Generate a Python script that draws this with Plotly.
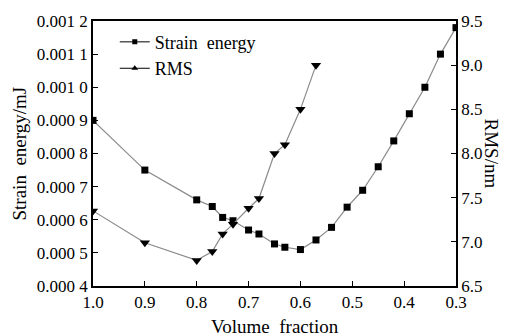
import plotly.graph_objects as go

# Data
se_x = [1.0, 0.9, 0.8, 0.77, 0.75, 0.73, 0.70, 0.68, 0.65, 0.63, 0.60,
        0.57, 0.54, 0.51, 0.48, 0.45, 0.42, 0.39, 0.36, 0.33, 0.30]
se_y = [0.000900, 0.000750, 0.000660, 0.000640, 0.000607, 0.000597, 0.000569,
        0.000557, 0.000527, 0.000517, 0.000510, 0.000539, 0.000577, 0.000638,
        0.000689, 0.000760, 0.000838, 0.000920, 0.001000, 0.001100, 0.001180]

rms_x = [1.0, 0.9, 0.8, 0.77, 0.75, 0.73, 0.70, 0.68, 0.65, 0.63, 0.60, 0.57]
rms_y = [7.35, 6.99, 6.79, 6.89, 7.09, 7.20, 7.38, 7.49, 8.00, 8.10, 8.50, 9.00]

x_ticks = [1.0, 0.9, 0.8, 0.7, 0.6, 0.5, 0.4, 0.3]
x_ticktext = ["1.0", "0.9", "0.8", "0.7", "0.6", "0.5", "0.4", "0.3"]
y1_ticks = [0.0004, 0.0005, 0.0006, 0.0007, 0.0008, 0.0009, 0.0010, 0.0011, 0.0012]
y1_ticktext = ["0.000 4", "0.000 5", "0.000 6", "0.000 7", "0.000 8",
               "0.000 9", "0.001 0", "0.001 1", "0.001 2"]
y2_ticks = [6.5, 7.0, 7.5, 8.0, 8.5, 9.0, 9.5]
y2_ticktext = ["6.5", "7.0", "7.5", "8.0", "8.5", "9.0", "9.5"]

FONT = "Liberation Serif, Times New Roman, serif"
LINE_GRAY = "#8a8a8a"

fig = go.Figure()
fig.add_trace(go.Scatter(
    x=se_x, y=se_y, mode="lines+markers", name="Strain energy",
    line=dict(color=LINE_GRAY, width=1.2),
    marker=dict(symbol="square", size=7, color="black"),
    showlegend=False, yaxis="y"))
fig.add_trace(go.Scatter(
    x=rms_x, y=rms_y, mode="lines+markers", name="RMS",
    line=dict(color=LINE_GRAY, width=1.2),
    marker=dict(symbol="triangle-down", size=9, color="black"),
    showlegend=False, yaxis="y2"))
# legend entries
fig.add_trace(go.Scatter(
    x=[None], y=[None], mode="lines+markers", name="Strain\u00a0 energy",
    line=dict(color="black", width=1),
    marker=dict(symbol="square", size=5, color="black")))
fig.add_trace(go.Scatter(
    x=[None], y=[None], mode="lines+markers", name="RMS",
    line=dict(color="black", width=1),
    marker=dict(symbol="triangle-up", size=6, color="black")))

axis_common = dict(showline=True, linecolor="black", linewidth=1.5,
                   ticks="inside", ticklen=5, tickwidth=1.3, tickcolor="black",
                   showgrid=False, zeroline=False,
                   tickfont=dict(family=FONT, size=17, color="black"))

fig.update_layout(
    width=508, height=336,
    margin=dict(l=93, r=52, t=21, b=50),
    plot_bgcolor="white", paper_bgcolor="white",
    font=dict(family=FONT, size=17, color="black"),
    xaxis=dict(range=[1.0, 0.3], tickvals=x_ticks, ticktext=x_ticktext,
               mirror=True, **axis_common),
    yaxis=dict(range=[0.0004, 0.0012], tickvals=y1_ticks, ticktext=y1_ticktext,
               **axis_common),
    yaxis2=dict(range=[6.5, 9.5], tickvals=y2_ticks, ticktext=y2_ticktext,
                overlaying="y", side="right", **axis_common),
    legend=dict(x=0.06, y=0.99, xanchor="left", yanchor="top",
                bgcolor="rgba(0,0,0,0)", font=dict(family=FONT, size=18),
                itemwidth=30, tracegroupgap=0),
    annotations=[
        dict(text="Strain\u00a0 energy/mJ", xref="paper", yref="paper", x=0, y=0.5,
             xanchor="center", yanchor="middle", xshift=-74, textangle=-90,
             showarrow=False, font=dict(family=FONT, size=19)),
        dict(text="RMS/nm", xref="paper", yref="paper", x=1, y=0.5,
             xanchor="center", yanchor="middle", xshift=35, textangle=90,
             showarrow=False, font=dict(family=FONT, size=19)),
        dict(text="Volume\u00a0 fraction", xref="paper", yref="paper", x=0.5, y=0,
             xanchor="center", yanchor="middle", yshift=-40,
             showarrow=False, font=dict(family=FONT, size=19)),
    ],
)

fig.write_html("out.html", config={"displayModeBar": False},
               post_script="document.body.style.margin='0';"
                           "document.body.style.overflow='hidden';")
